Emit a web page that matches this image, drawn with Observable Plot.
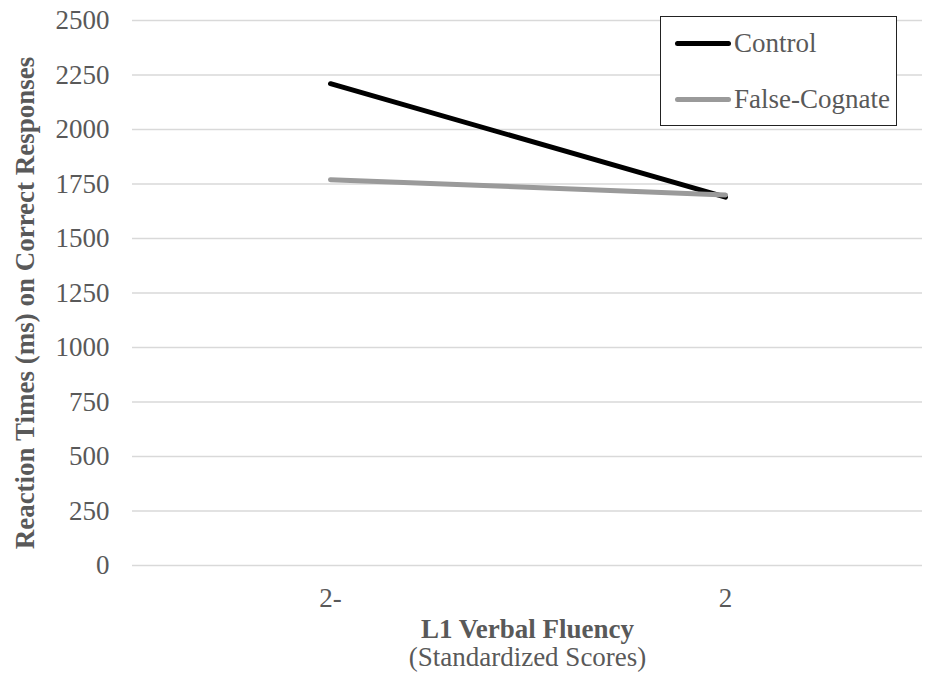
<!DOCTYPE html>
<html>
<head>
<meta charset="utf-8">
<script src="https://cdn.jsdelivr.net/npm/d3@7"></script>
<script src="https://cdn.jsdelivr.net/npm/@observablehq/plot@0.6"></script>
<style>
  body { margin: 0; background: #fff; }
  #wrap { position: relative; width: 928px; height: 680px; font-family: "Liberation Serif", serif; }
  #legend { position: absolute; left: 660px; top: 16px; width: 237px; height: 110px; border: 1.5px solid #222; background: #fff; box-sizing: border-box; }
  .item { position: absolute; left: 14px; display: flex; align-items: center; font-size: 27px; line-height: 30px; color: #595959; }
  .sw { width: 56px; height: 5px; border-radius: 3px; margin-right: 3px; }
</style>
</head>
<body>
<div id="wrap"><div id="legend"></div></div>
<script>
const categories = ["2-", "2"];
const seriesNames = ["Control", "False-Cognate"];
const controlValues = [2210, 1690];
const falseCognateValues = [1770, 1700];
const yTicks = [0, 250, 500, 750, 1000, 1250, 1500, 1750, 2000, 2250, 2500];
const colors = ["#000000", "#9a9a9a"];
const yTitle = "Reaction Times (ms) on Correct Responses";
const xTitle = "L1 Verbal Fluency";
const xSubtitle = "(Standardized Scores)";

const data = [];
categories.forEach((c, i) => {
  data.push({cat: c, series: seriesNames[0], value: controlValues[i]});
  data.push({cat: c, series: seriesNames[1], value: falseCognateValues[i]});
});

const font = "'Liberation Serif', serif";
const chart = Plot.plot({
  width: 928,
  height: 680,
  marginLeft: 132,
  marginRight: 6,
  marginTop: 20,
  marginBottom: 115,
  style: {fontFamily: font, fontSize: "27px", color: "#595959", background: "#fff", overflow: "visible"},
  x: {type: "point", domain: categories, padding: 0.5, label: null},
  y: {domain: [0, 2500], ticks: yTicks, label: null},
  color: {domain: seriesNames, range: colors},
  marks: [
    Plot.gridY(yTicks, {stroke: "#d9d9d9", strokeOpacity: 1, strokeWidth: 1.5}),
    Plot.axisY(yTicks, {tickSize: 0, tickPadding: 23, fontSize: 27, fill: "#595959", label: null, tickFormat: d => String(d)}),
    Plot.axisX({tickSize: 0, tickPadding: 22, fontSize: 27, fill: "#595959", label: null}),
    Plot.line(data, {x: "cat", y: "value", z: "series", stroke: "series", strokeWidth: 5, strokeLinecap: "round"}),
    Plot.text([yTitle], {frameAnchor: "left", textAnchor: "middle", dx: -107, dy: 10, rotate: -90, fontWeight: "bold", fontSize: 27, fill: "#595959"}),
    Plot.text([xTitle], {frameAnchor: "bottom", dy: 72, fontWeight: "bold", fontSize: 27, fill: "#595959"}),
    Plot.text([xSubtitle], {frameAnchor: "bottom", dy: 100, fontSize: 27, fill: "#595959"})
  ]
});
document.getElementById("wrap").prepend(chart);

const legend = document.getElementById("legend");
seriesNames.forEach((name, i) => {
  const item = document.createElement("div");
  item.className = "item";
  item.style.top = (i === 0 ? 11 : 67) + "px";
  const sw = document.createElement("div");
  sw.className = "sw";
  sw.style.background = colors[i];
  const label = document.createElement("span");
  label.textContent = name;
  item.append(sw, label);
  legend.append(item);
});
</script>
</body>
</html>
